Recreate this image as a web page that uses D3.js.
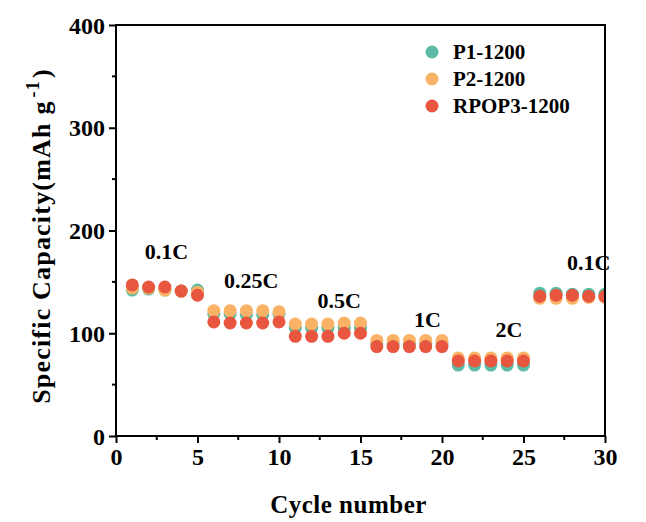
<!DOCTYPE html>
<html><head><meta charset="utf-8">
<script src="https://cdn.jsdelivr.net/npm/d3@7/dist/d3.min.js"></script>
<style>body{margin:0;background:#fff}svg{display:block}text{font-family:"Liberation Serif","Times New Roman",serif;font-weight:bold}</style>
</head><body><div id="chart"></div>
<script>
const cycles = d3.range(1, 31);
const p1 = [142,143,142,141,142, 119,119,118,118,119, 105,105,105,105,105, 90,90,90,90,90, 69,69,69,69,69, 139,139,138,138,138];
const p2 = [144,144,142,141,140, 122,122,122,122,121, 109,109,109,110,110, 93,93,93,93,93, 76,76,76,76,76, 134,134,134,135,135];
const rpop3 = [147,145,145,141,137, 111,110,110,110,111, 97,97,97,100,100, 87,87,87,87,87, 73,73,73,73,73, 136,137,137,136,136];
const seriesNames = ["P1-1200","P2-1200","RPOP3-1200"];
const seriesColors = ["#5bbba4","#f9b266","#e8563f"];
const rateLabels = ["0.1C","0.25C","0.5C","1C","2C","0.1C"];
const rateLabelX = [3.1, 8.3, 13.7, 19.1, 24.1, 29.0];
const rateLabelY = [172, 144, 125, 106, 96, 162];
const xTicks = [0,5,10,15,20,25,30];
const yTicks = [0,100,200,300,400];

const W = 646, H = 522;
const m = {l:116, t:25, r:605, b:436};
const svg = d3.select("#chart").append("svg").attr("width", W).attr("height", H);
const x = d3.scaleLinear().domain([0,30]).range([m.l, m.r]);
const y = d3.scaleLinear().domain([0,400]).range([m.b, m.t]);

svg.append("clipPath").attr("id","clip").append("rect")
  .attr("x", m.l).attr("y", m.t).attr("width", m.r-m.l).attr("height", m.b-m.t);

const data = [p1, p2, rpop3];
const pts = svg.append("g").attr("clip-path","url(#clip)");
data.forEach((vals, i) => {
  pts.selectAll(null).data(vals).enter().append("circle")
    .attr("cx", (d, j) => x(cycles[j])).attr("cy", d => y(d))
    .attr("r", 6.5).attr("fill", seriesColors[i]);
});

// axes
const xAxis = svg.append("g").attr("transform", `translate(0,${m.b})`)
  .call(d3.axisBottom(x).tickValues(xTicks).tickSize(7).tickPadding(5));
const yAxis = svg.append("g").attr("transform", `translate(${m.l},0)`)
  .call(d3.axisLeft(y).tickValues(yTicks).tickSize(7).tickPadding(4));
[xAxis, yAxis].forEach(a => {
  a.select(".domain").remove();
  a.selectAll("line").attr("stroke","#000").attr("stroke-width",2);
  a.selectAll("text").attr("font-size", 24).attr("fill","#000")
    .style("font-family",'"Liberation Serif",serif').style("font-weight","bold");
});
yAxis.selectAll("text").attr("dy","0.34em");
// minor ticks
svg.append("g").selectAll("line").data(d3.range(2.5, 30, 5)).enter().append("line")
  .attr("x1", d => x(d)).attr("x2", d => x(d)).attr("y1", m.b).attr("y2", m.b+4)
  .attr("stroke","#000").attr("stroke-width",2);
svg.append("g").selectAll("line").data(d3.range(50, 400, 100)).enter().append("line")
  .attr("y1", d => y(d)).attr("y2", d => y(d)).attr("x1", m.l).attr("x2", m.l-4)
  .attr("stroke","#000").attr("stroke-width",2);
// frame
svg.append("rect").attr("x", m.l).attr("y", m.t).attr("width", m.r-m.l).attr("height", m.b-m.t)
  .attr("fill","none").attr("stroke","#000").attr("stroke-width",2);

// rate labels
svg.append("g").selectAll("text").data(rateLabels).enter().append("text")
  .attr("x", (d,i) => x(rateLabelX[i])).attr("y", (d,i) => y(rateLabelY[i]))
  .attr("text-anchor","middle").attr("font-size",22).text(d => d);

// legend
const lg = svg.append("g");
seriesNames.forEach((n, i) => {
  lg.append("circle").attr("cx", 432).attr("cy", 52 + i*27).attr("r", 6.5).attr("fill", seriesColors[i]);
  lg.append("text").attr("x", 453).attr("y", 52 + i*27 + 7).attr("font-size", 21).text(n);
});

// axis titles
svg.append("text").attr("x", (m.l+m.r)/2 - 12).attr("y", 513).attr("text-anchor","middle")
  .attr("font-size", 25).attr("letter-spacing", 0.5).text("Cycle number");
const yt = svg.append("text").attr("transform", "translate(50,236) rotate(-90)")
  .attr("text-anchor","middle").attr("font-size", 26).attr("letter-spacing", 1.2);
yt.append("tspan").text("Specific Capacity(mAh g");
yt.append("tspan").attr("font-size", 18).attr("dy", -11).attr("dx", 3).text("-1");
yt.append("tspan").attr("dy", 11).attr("dx", 2).text(")");
</script></body></html>
